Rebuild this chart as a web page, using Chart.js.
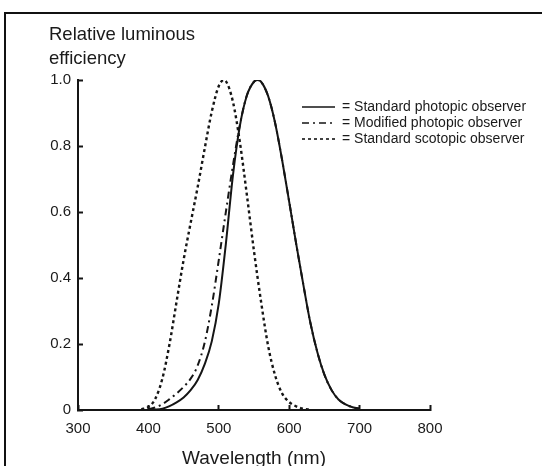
<!DOCTYPE html>
<html>
<head>
<meta charset="utf-8">
<title>Relative luminous efficiency</title>
<script src="https://cdn.jsdelivr.net/npm/chart.js@4.4.1/dist/chart.umd.min.js"></script>
<style>
  html, body { margin: 0; padding: 0; background: #fff; }
  #wrap { position: relative; width: 542px; height: 466px; overflow: hidden; }
  #frame { position: absolute; left: 4px; top: 12px; right: -10px; bottom: -10px;
           border-left: 2px solid #111; border-top: 2px solid #111; }
  canvas { position: absolute; left: 0; top: 0; }
</style>
</head>
<body>
<div id="wrap">
  <div id="frame"></div>
  <canvas id="myChart" width="542" height="466"></canvas>
</div>
<script>
// wavelengths (nm) and relative luminous efficiency
const photopicNm = [400, 410, 420, 430, 440, 450, 460, 470, 480, 490, 500, 510, 520, 530, 540, 550, 555,
    560, 570, 580, 590, 600, 610, 620, 630, 640, 650, 660, 670, 680, 690, 700];
const photopicV = [0.0004, 0.0012, 0.004, 0.0116, 0.023, 0.038, 0.06, 0.091, 0.139, 0.208, 0.323, 0.503,
    0.71, 0.862, 0.954, 0.995, 1.0, 0.995, 0.952, 0.87, 0.757, 0.631, 0.503, 0.381, 0.265, 0.175, 0.107,
    0.061, 0.032, 0.017, 0.0082, 0.0041];
const modifiedV = [0.002, 0.008, 0.018, 0.033, 0.05, 0.07, 0.095, 0.135, 0.205, 0.315, 0.455, 0.6,
    0.74, 0.865, 0.955, 0.995, 1.0, 0.995, 0.952, 0.87, 0.757, 0.631, 0.503, 0.381, 0.265, 0.175, 0.107,
    0.061, 0.032, 0.017, 0.0082, 0.0041];
const scotopicNm = [390, 400, 410, 420, 430, 440, 450, 460, 470, 480, 490, 500, 507, 510, 520, 530, 540,
    550, 560, 570, 580, 590, 600, 610, 620, 630];
const scotopicV = [0.0022, 0.0093, 0.0348, 0.0966, 0.1998, 0.3281, 0.455, 0.567, 0.676, 0.793, 0.904,
    0.982, 1.0, 0.997, 0.935, 0.811, 0.65, 0.481, 0.3288, 0.195, 0.105, 0.05, 0.024, 0.011, 0.004, 0.001];

const seriesLabels = ['= Standard photopic observer', '= Modified photopic observer', '= Standard scotopic observer'];
const xTicks = [300, 400, 500, 600, 700, 800];
const yTicks = [0, 0.2, 0.4, 0.6, 0.8, 1.0];
const yTitle = ['Relative luminous', 'efficiency'];
const xTitle = 'Wavelength (nm)';

const ink = '#151515';
const fontFamily = '"Liberation Sans", Arial, Helvetica, sans-serif';

function toPoints(xs, ys) {
    return xs.map((x, i) => ({ x: x, y: ys[i] }));
}

// puts the legend inside the plot, up at the right
const placeLegend = {
    id: 'placeLegend',
    afterLayout(chart) {
        const lg = chart.legend;
        const w = lg.width, h = lg.height;
        lg.left = 300;
        lg.top = 98;
        lg.right = 300 + w;
        lg.bottom = 98 + h;
    }
};

const ctx = document.getElementById('myChart').getContext('2d');
new Chart(ctx, {
    type: 'line',
    data: {
        datasets: [{
            label: seriesLabels[0],
            data: toPoints(photopicNm, photopicV),
            borderColor: ink,
            borderWidth: 2,
            borderDash: [],
            cubicInterpolationMode: 'monotone'
        }, {
            label: seriesLabels[1],
            data: toPoints(photopicNm, modifiedV),
            borderColor: ink,
            borderWidth: 2,
            borderDash: [7, 4, 2, 4],
            cubicInterpolationMode: 'monotone'
        }, {
            label: seriesLabels[2],
            data: toPoints(scotopicNm, scotopicV),
            borderColor: ink,
            borderWidth: 2.4,
            borderDash: [3, 3],
            cubicInterpolationMode: 'monotone'
        }]
    },
    options: {
        responsive: false,
        animation: false,
        layout: { padding: { left: 49, right: 112, top: 0, bottom: 0 } },
        elements: { point: { radius: 0 } },
        plugins: {
            tooltip: { enabled: false },
            title: {
                display: true,
                text: yTitle,
                align: 'start',
                color: '#1a1a1a',
                font: { family: fontFamily, size: 18.5, weight: 'normal', lineHeight: 1.3 },
                padding: { top: 23, bottom: 9 }
            },
            legend: {
                position: 'chartArea',
                align: 'start',
                padding: 0,
                labels: {
                    usePointStyle: true,
                    pointStyle: 'line',
                    pointStyleWidth: 33,
                    padding: 2,
                    color: '#1a1a1a',
                    font: { family: fontFamily, size: 14 },
                    generateLabels(chart) {
                        return chart.data.datasets.map((ds, i) => ({
                            text: ds.label,
                            datasetIndex: i,
                            strokeStyle: ds.borderColor,
                            fillStyle: 'transparent',
                            fontColor: '#1a1a1a',
                            lineWidth: 1.6,
                            lineDash: ds.borderDash,
                            lineDashOffset: 0,
                            pointStyle: 'line',
                            hidden: false
                        }));
                    }
                }
            }
        },
        scales: {
            x: {
                type: 'linear',
                min: 300,
                max: 800,
                afterFit(scale) { scale.height = 56; },
                afterBuildTicks(scale) { scale.ticks = xTicks.map(v => ({ value: v })); },
                border: { color: ink, width: 2 },
                grid: { drawOnChartArea: false, drawTicks: true, tickLength: -5, tickWidth: 2, tickColor: ink },
                ticks: {
                    padding: 15,
                    maxRotation: 0,
                    color: '#1a1a1a',
                    font: { family: fontFamily, size: 15 }
                },
                title: {
                    display: true,
                    text: xTitle,
                    color: '#1a1a1a',
                    padding: 0,
                    font: { family: fontFamily, size: 19, lineHeight: 0.8 }
                }
            },
            y: {
                min: 0,
                max: 1,
                afterFit(scale) { scale.width = 29; },
                afterBuildTicks(scale) { scale.ticks = yTicks.map(v => ({ value: v })); },
                border: { color: ink, width: 2 },
                grid: { drawOnChartArea: false, drawTicks: true, tickLength: -5, tickWidth: 2, tickColor: ink },
                ticks: {
                    padding: 12,
                    color: '#1a1a1a',
                    font: { family: fontFamily, size: 15 },
                    callback: v => (v === 0 ? '0' : v.toFixed(1))
                }
            }
        }
    },
    plugins: [placeLegend]
});
</script>
</body>
</html>
